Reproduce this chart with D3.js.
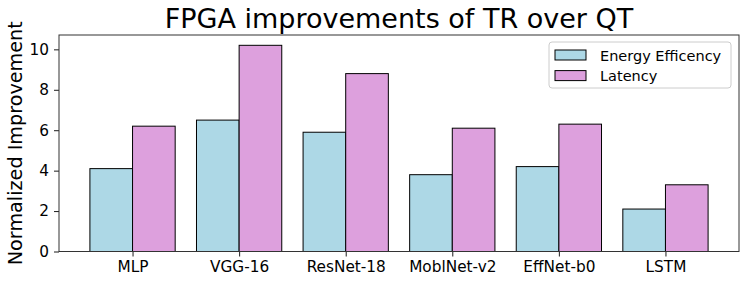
<!DOCTYPE html>
<html>
<head>
<meta charset="utf-8">
<script src="https://cdn.jsdelivr.net/npm/d3@7"></script>
<style>
  body { margin: 0; background: #fff; }
  text { font-family: "DejaVu Sans", sans-serif; fill: #000; }
</style>
</head>
<body>
<div id="chart"></div>
<script>
const categories = ["MLP", "VGG-16", "ResNet-18", "MoblNet-v2", "EffNet-b0", "LSTM"];
const energy = [4.1, 6.5, 5.9, 3.8, 4.2, 2.1];
const latency = [6.2, 10.2, 8.8, 6.1, 6.3, 3.3];
const seriesNames = ["Energy Efficency", "Latency"];
const colors = ["lightblue", "plum"];
const yTicks = [0, 2, 4, 6, 8, 10];

const width = 747, height = 283;
const margin = {left: 59, right: 8, top: 35, bottom: 31.5};

const svg = d3.select("#chart").append("svg")
    .attr("width", width).attr("height", height);

const plotW = width - margin.left - margin.right;
const plotH = height - margin.top - margin.bottom;
const g = svg.append("g").attr("transform", `translate(${margin.left},${margin.top})`);

// bar positions in category units, like matplotlib
const barW = 0.4;
const x = d3.scaleLinear().domain([-0.69, 5.69]).range([0, plotW]);
const y = d3.scaleLinear().domain([0, 10.71]).range([plotH, 0]);

const series = [energy, latency];
series.forEach((vals, s) => {
    g.selectAll(null).data(vals).enter().append("rect")
        .attr("x", (d, i) => x(i + (s === 0 ? -barW : 0)))
        .attr("width", x(barW) - x(0))
        .attr("y", d => y(d))
        .attr("height", d => y(0) - y(d))
        .attr("fill", colors[s])
        .attr("stroke", "#000")
        .attr("stroke-width", 1);
});

// axes
const xAxis = d3.axisBottom(x).tickValues(d3.range(categories.length))
    .tickFormat(i => categories[i]).tickSize(5).tickPadding(5);
const yAxis = d3.axisLeft(y).tickValues(yTicks).tickSize(5).tickPadding(5);

const gx = g.append("g").attr("transform", `translate(0,${plotH})`).call(xAxis);
const gy = g.append("g").call(yAxis);
[gx, gy].forEach(a => {
    a.select(".domain").remove();
    a.selectAll("line").attr("stroke", "#000").attr("stroke-width", 0.9);
    a.selectAll("text").style("font-size", "15.3px").style("font-family", "DejaVu Sans");
});

// frame
g.append("rect").attr("width", plotW).attr("height", plotH)
    .attr("fill", "none").attr("stroke", "#333").attr("stroke-width", 1);

// title and y label
svg.append("text").attr("x", margin.left + plotW / 2).attr("y", 28)
    .attr("text-anchor", "middle").style("font-size", "27px")
    .text("FPGA improvements of TR over QT");

svg.append("text")
    .attr("transform", `translate(22,${margin.top + plotH / 2}) rotate(-90)`)
    .attr("text-anchor", "middle").style("font-size", "19.2px")
    .text("Normalized Improvement");

// legend
const lg = svg.append("g").attr("transform", "translate(549,42)");
lg.append("rect").attr("width", 182).attr("height", 46).attr("rx", 3)
    .attr("fill", "#fff").attr("fill-opacity", 0.8)
    .attr("stroke", "#ccc").attr("stroke-width", 1);
seriesNames.forEach((name, i) => {
    const row = lg.append("g").attr("transform", `translate(6,${8 + i * 20.6})`);
    row.append("rect").attr("width", 31).attr("height", 10)
        .attr("fill", colors[i]).attr("stroke", "#000").attr("stroke-width", 1);
    row.append("text").attr("x", 45).attr("y", 10.5)
        .style("font-size", "14.5px").text(name);
});
</script>
</body>
</html>
